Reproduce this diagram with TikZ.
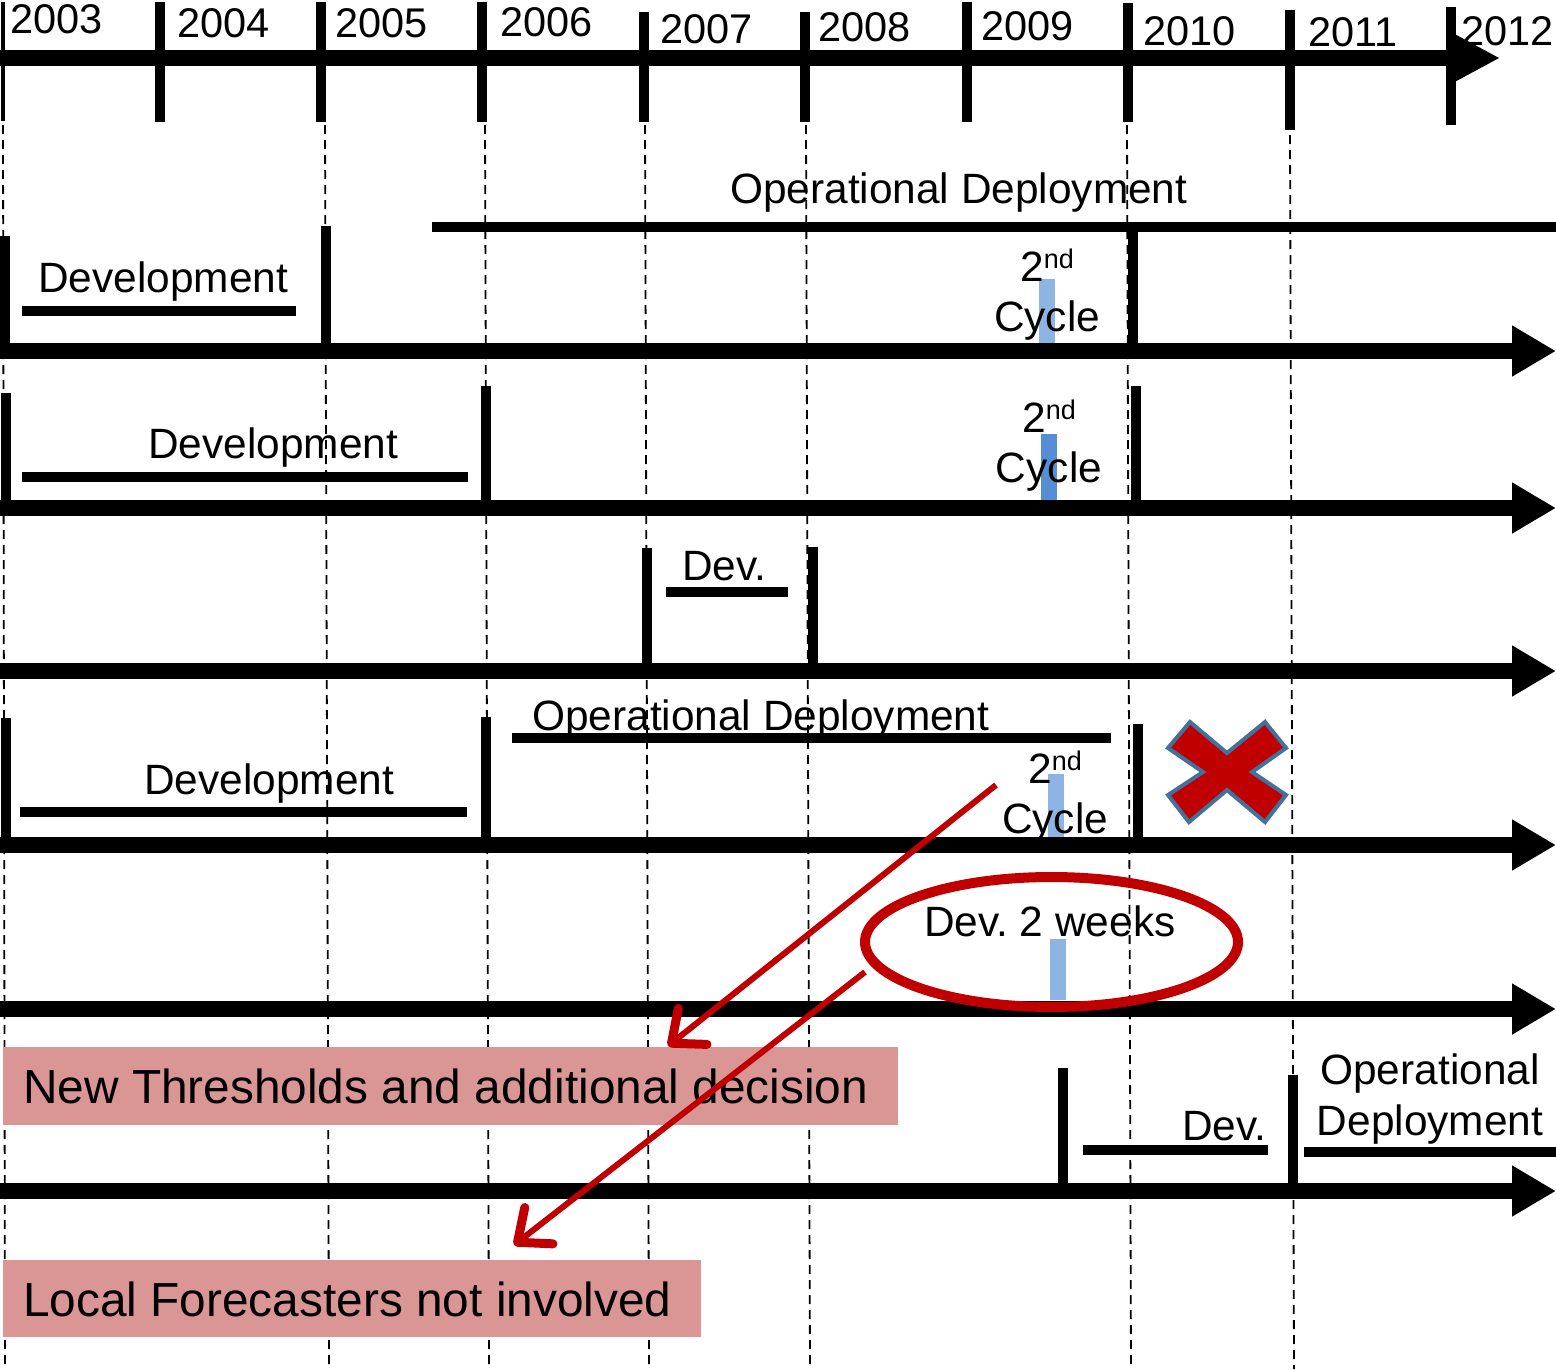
\documentclass[tikz,border=0pt]{standalone}
\usepackage{fontspec}
\setmainfont{Liberation Sans}
\usetikzlibrary{arrows.meta}
\definecolor{xred}{HTML}{C00000}
\definecolor{xblue}{HTML}{41719C}
\definecolor{lightbar}{HTML}{8EB4E3}
\definecolor{darkbar}{HTML}{558ED5}
\definecolor{pinkbox}{HTML}{D99694}
\frenchspacing
\begin{document}
\begin{tikzpicture}[x=1pt,y=-1pt,
  txt/.style={inner sep=0pt,anchor=base west,font=\fontsize{42.4}{48}\selectfont},
  yrtxt/.style={txt,font=\fontsize{41.5}{48}\selectfont},
  ctxt/.style={txt,anchor=base},
  bigtxt/.style={txt,font=\fontsize{47.8}{56}\selectfont},
  timeline/.style={line width=16pt,-{Triangle[length=44pt,width=48pt]}},
  yeartick/.style={line width=10pt},
  bar/.style={line width=10pt},
  grid/.style={line width=1.8pt,dash pattern=on 9pt off 6pt},
  redarrow/.style={draw=xred,line width=6pt,-{Straight Barb[length=27pt,width=46pt,line width=9pt,round]}},
  note/.style={fill=pinkbox,inner sep=0pt,anchor=north west}]
\useasboundingbox (0,0) rectangle (1556,1369);
\fill[white] (0,0) rectangle (1556,1369);

% year dividers running down the chart
\draw[grid] (3,125) -- (5,1369);
\draw[grid] (325,125) -- (329,1369);
\draw[grid] (485,125) -- (489,1369);
\draw[grid] (645,125) -- (649,1369);
\draw[grid] (806,125) -- (810,1369);
\draw[grid] (1127,125) -- (1131,1369);
\draw[grid] (1290,135) -- (1294,1369);

% year labels
\node[yrtxt] (y03) at (10,33) {2003};
\node[yrtxt] (y04) at (177,37) {2004};
\node[yrtxt] (y05) at (335,37) {2005};
\node[yrtxt] (y06) at (500,36) {2006};
\node[yrtxt] (y07) at (660,43) {2007};
\node[yrtxt] (y08) at (818,41) {2008};
\node[yrtxt] (y09) at (981,40) {2009};
\node[yrtxt] (y10) at (1143,45) {2010};
\node[yrtxt] (y11) at (1308,46) {2011};
\node[yrtxt] (y12) at (1461,45) {2012};

% year axis
\draw[line width=4pt] (3,2) -- (3,121);
\draw[yeartick] (160,2) -- (160,122);
\draw[yeartick] (321,2) -- (321,122);
\draw[yeartick] (482,2) -- (482,122);
\draw[yeartick] (644,12) -- (644,122);
\draw[yeartick] (805,12) -- (805,122);
\draw[yeartick] (967,2) -- (967,122);
\draw[yeartick] (1128,3) -- (1128,122);
\draw[yeartick] (1290,10) -- (1290,130);
\draw[yeartick] (1451,7) -- (1451,125);
\draw[line width=16pt,-{Triangle[length=46pt,width=45pt]}] (0,58) -- (1500,58);

% row 1
\node[txt] (op1) at (730,203) {Operational Deployment};
\draw[bar] (432,227) -- (1556,227);
\node[txt] (dev1) at (38,292) {Development};
\draw[bar] (22,311) -- (296,311);
\draw[bar] (5,236) -- (5,351);
\draw[bar] (326,226) -- (326,351);
\draw[bar] (1133,232) -- (1133,351);
\fill[lightbar] (1039,279) rectangle (1055,344);
\node[ctxt] (nd1) at (1047,281) {2\raisebox{13pt}{\fontsize{27}{30}\selectfont nd}};
\node[ctxt] (cy1) at (1047,331) {Cycle};
\draw[timeline] (0,351) -- (1556,351);

% row 2
\node[txt] (dev2) at (148,458) {Development};
\draw[bar] (22,477) -- (468,477);
\draw[bar] (6,393) -- (6,508);
\draw[bar] (486,386) -- (486,508);
\draw[bar] (1136,386) -- (1136,508);
\fill[darkbar] (1041,434) rectangle (1057,500);
\node[ctxt] (nd2) at (1049,432) {2\raisebox{13pt}{\fontsize{27}{30}\selectfont nd}};
\node[ctxt] (cy2) at (1049,482) {Cycle};
\draw[timeline] (0,508) -- (1556,508);

% row 3
\node[txt] (dev3) at (682,580) {Dev.};
\draw[bar] (666,592) -- (788,592);
\draw[bar] (647,548) -- (647,671);
\draw[bar] (813,547) -- (813,671);
\draw[timeline] (0,671) -- (1556,671);

% row 4
\node[txt] (op4) at (532,730) {Operational Deployment};
\draw[bar] (512,738) -- (1111,738);
\node[txt] (dev4) at (144,794) {Development};
\draw[bar] (20,812) -- (467,812);
\draw[bar] (6,718) -- (6,845);
\draw[bar] (486,717) -- (486,845);
\draw[bar] (1138,724) -- (1138,845);
\fill[lightbar] (1048,774) rectangle (1064,838);
\node[ctxt] (nd4) at (1055,783) {2\raisebox{13pt}{\fontsize{27}{30}\selectfont nd}};
\node[ctxt] (cy4) at (1055,833) {Cycle};
\draw[timeline] (0,845) -- (1556,845);
% cancelled mark
\filldraw[fill=xred,draw=xblue,line width=4pt,line join=miter]
  (1190,722) -- (1227,753) -- (1265,722) -- (1286,748) -- (1252,772) -- (1286,795)
  -- (1265,822) -- (1227,790) -- (1189,822) -- (1168,795) -- (1203,772) -- (1168,748) -- cycle;

% row 5
\draw[timeline] (0,1009) -- (1556,1009);
\fill[lightbar] (1050,939) rectangle (1066,1000);
\node[txt] (dev5) at (924,936) {Dev. 2 weeks};
\draw[xred,line width=10pt] (1051.5,942) ellipse [x radius=186.5,y radius=65];

% row 6
\node[ctxt] (op6a) at (1430,1084) {Operational};
\node[ctxt] (op6b) at (1430,1135) {Deployment};
\draw[bar] (1304,1152) -- (1556,1152);
\node[txt] (dev6) at (1182,1140) {Dev.};
\draw[bar] (1083,1150) -- (1268,1150);
\draw[bar] (1063,1068) -- (1063,1191);
\draw[bar] (1293,1075) -- (1293,1191);
\draw[timeline] (0,1191) -- (1556,1191);

% consequences
\node[note,minimum width=895pt,minimum height=78pt] (thr) at (3,1047) {};
\node[bigtxt] (thrtext) at (23,1103) {New Thresholds and additional decision};
\node[note,minimum width=698pt,minimum height=77pt] (loc) at (3,1260) {};
\node[bigtxt] (loctext) at (23,1316) {Local Forecasters not involved};

\coordinate (a1s) at (996,785);
\coordinate (a1e) at (668,1046);
\coordinate (a2s) at (865,972);
\coordinate (a2e) at (514,1245);
\draw[redarrow] (a1s) -- (a1e);
\draw[redarrow] (a2s) -- (a2e);
\end{tikzpicture}
\end{document}
